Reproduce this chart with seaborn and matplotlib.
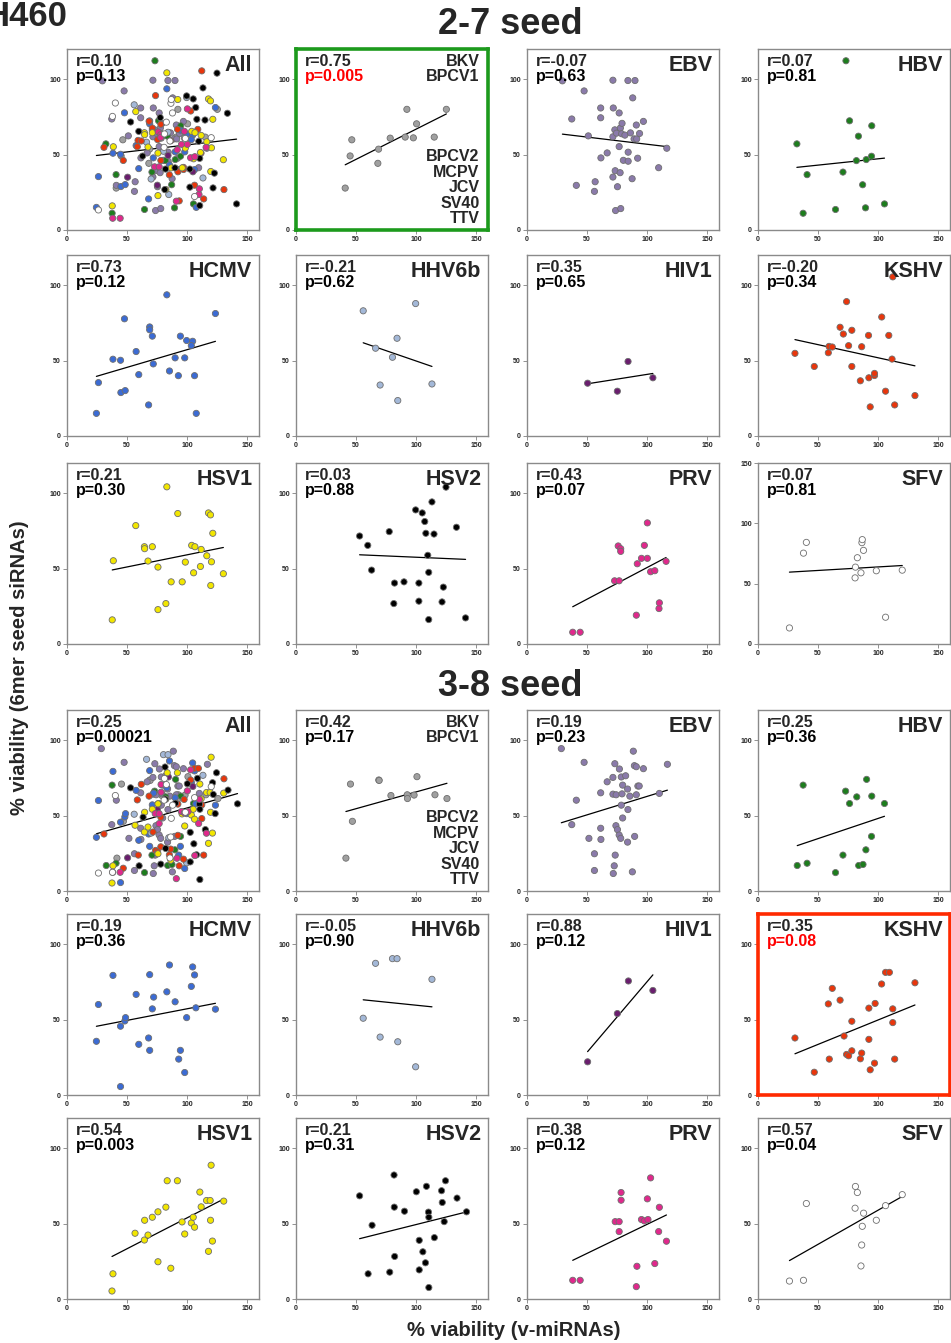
import matplotlib
matplotlib.use('Agg')
import matplotlib.pyplot as plt
import seaborn as sns
import pandas as pd

sns.set_style('white')
plt.rcParams['font.family'] = ['Liberation Sans', 'DejaVu Sans']
plt.rcParams['font.weight'] = 'bold'

# ---- 2-7 seed data (x = % viability v-miRNAs, y = % viability 6mer seed siRNAs)
bkv27_x = [41.0, 45.1, 46.5, 68.2, 68.8, 78.5, 91.0, 92.4, 97.8, 100.5, 115.2, 125.3]
bkv27_y = [27.8, 49.1, 59.8, 44.2, 53.6, 60.9, 61.6, 80.0, 61.1, 70.4, 61.6, 80.0]
ebv27_x = [29.5, 37.3, 41.1, 47.6, 51.1, 61.4, 61.4, 61.6, 56.8, 56.2, 66.8, 71.6, 71.9, 71.6, 73.2,
           74.6, 76.8, 76.8, 77.8, 79.2, 78.9, 81.6, 80.3, 84.3, 84.3, 86.2, 84.1, 90.0, 88.1, 89.2,
           91.4, 91.1, 93.8, 97.0, 92.2, 73.5, 71.6, 77.6, 75.4, 87.6, 73.8, 78.1, 109.7, 116.5]
ebv27_y = [98.9, 73.6, 29.6, 92.2, 62.4, 80.9, 74.4, 47.8, 32.0, 25.6, 51.1, 99.3, 80.9, 61.8, 66.4,
           64.2, 77.6, 55.3, 67.6, 70.7, 63.8, 62.9, 46.2, 51.6, 45.6, 64.4, 99.1, 99.1, 87.6, 60.4,
           60.4, 69.6, 64.0, 72.0, 47.6, 39.3, 35.1, 38.0, 28.7, 34.0, 12.9, 14.2, 41.3, 54.2]
hbv27_x = [73.3, 32.4, 40.9, 37.6, 64.6, 70.8, 76.3, 83.7, 82.0, 90.2, 94.6, 94.8, 87.2, 89.6, 105.4]
hbv27_y = [112.2, 57.1, 36.7, 11.1, 13.6, 38.4, 72.4, 62.2, 46.0, 46.7, 48.9, 69.1, 30.0, 14.7, 17.3]
hcmv27_x = [24.5, 26.2, 38.3, 44.6, 47.9, 44.9, 48.5, 57.6, 59.8, 68.9, 68.9, 71.1, 71.9, 68.0, 83.2,
            85.4, 90.1, 94.5, 92.8, 98.1, 99.7, 104.7, 103.6, 106.3, 107.7, 123.7]
hcmv27_y = [15.0, 35.4, 50.9, 50.2, 77.7, 28.8, 30.1, 56.0, 40.7, 72.3, 70.4, 66.2, 47.8, 20.6, 93.6,
            43.1, 51.8, 66.2, 40.0, 51.8, 63.3, 62.8, 59.9, 40.0, 15.0, 81.2]
hhv6b27_x = [56.0, 66.3, 70.1, 80.4, 84.2, 84.8, 99.7, 113.3]
hhv6b27_y = [83.0, 58.2, 33.8, 52.2, 64.8, 23.5, 87.8, 34.5]
hiv127_x = [50.5, 75.3, 84.2, 104.9]
hiv127_y = [35.0, 29.7, 49.4, 38.6]
kshv27_x = [30.8, 46.9, 58.6, 59.2, 61.9, 68.4, 71.1, 73.8, 75.5, 78.2, 78.2, 85.3, 86.4, 92.1, 92.4,
            93.5, 97.1, 97.1, 103.1, 106.3, 109.0, 111.7, 113.9, 130.8, 112.3]
kshv27_y = [54.8, 46.1, 55.2, 59.4, 59.0, 72.1, 67.6, 89.1, 59.9, 70.1, 46.1, 36.6, 59.2, 66.7, 38.6,
            19.3, 40.1, 41.5, 78.9, 29.7, 66.7, 51.0, 20.6, 26.8, 105.5]
hsv127_x = [37.7, 38.6, 57.3, 64.5, 64.7, 71.1, 67.5, 75.8, 75.8, 83.2, 82.4, 86.8, 92.3, 96.0, 98.6,
            103.9, 106.6, 105.5, 111.8, 111.2, 116.5, 117.9, 119.6, 120.4, 119.8, 121.5, 130.3]
hsv127_y = [16.0, 55.2, 78.5, 64.5, 63.2, 64.5, 55.0, 51.0, 22.8, 104.2, 26.8, 41.2, 86.5, 41.2, 54.3,
            65.4, 64.5, 47.2, 62.7, 51.4, 58.5, 86.9, 85.6, 54.5, 38.8, 73.4, 46.6]
hsv227_x = [53.0, 59.8, 63.0, 77.7, 82.1, 81.5, 90.0, 99.7, 105.2, 107.3, 108.2, 115.0, 109.8, 110.6,
            102.4, 102.4, 110.6, 113.3, 122.8, 121.7, 133.7, 141.3, 125.0]
hsv227_y = [71.6, 65.4, 49.0, 74.5, 40.4, 26.8, 41.2, 88.9, 86.9, 81.2, 73.4, 72.9, 58.8, 47.5,
            40.4, 28.4, 16.2, 94.2, 37.7, 27.9, 77.4, 17.3, 104.0]
prv27_x = [38.1, 44.3, 73.0, 76.8, 76.0, 78.1, 78.1, 91.1, 91.9, 95.4, 97.8, 100.3, 100.3, 103.0,
           106.5, 110.0, 110.3, 115.9]
prv27_y = [7.8, 7.8, 41.9, 41.9, 65.0, 63.2, 61.4, 19.1, 53.2, 56.8, 65.4, 56.8, 80.3, 47.9,
           48.6, 23.5, 27.3, 54.8]
sfv27_x = [26.2, 37.9, 40.3, 80.9, 81.2, 82.8, 85.8, 86.6, 86.9, 87.9, 98.6, 106.3, 120.2]
sfv27_y = [13.3, 75.3, 84.2, 54.8, 63.7, 71.5, 59.0, 84.0, 86.5, 77.6, 60.7, 22.2, 61.2]

# ---- 3-8 seed data
bkv38_x = [41.6, 45.4, 47.0, 69.0, 69.3, 79.1, 92.7, 92.9, 98.4, 100.8, 115.8, 125.8]
bkv38_y = [21.8, 70.9, 46.2, 73.6, 73.3, 63.3, 63.8, 61.3, 63.6, 75.8, 63.8, 61.3]
ebv38_x = [28.6, 37.3, 41.1, 47.6, 51.6, 56.2, 56.2, 61.4, 61.4, 61.6, 66.8, 71.6, 71.6, 73.2, 74.3,
           74.1, 75.4, 73.5, 72.7, 71.9, 77.0, 78.6, 78.6, 76.8, 78.1, 79.2, 79.7, 79.7, 82.2, 83.8,
           84.1, 83.8, 85.7, 88.6, 89.5, 91.1, 91.1, 92.4, 93.5, 89.7, 87.8, 97.0, 110.3, 117.0]
ebv38_y = [94.4, 44.0, 60.2, 85.3, 34.9, 24.7, 13.6, 65.1, 41.6, 34.2, 72.4, 75.3, 64.2, 84.4, 63.8,
           43.3, 40.7, 23.8, 16.7, 11.6, 80.9, 75.6, 56.9, 37.1, 34.9, 64.4, 70.2, 48.4, 76.4, 67.6,
           54.0, 32.4, 62.9, 92.7, 83.1, 82.4, 63.8, 69.6, 69.6, 36.2, 12.7, 81.1, 64.7, 84.0]
hbv38_x = [32.7, 37.6, 40.9, 64.6, 70.8, 73.0, 76.3, 82.3, 83.9, 87.5, 89.9, 90.5, 94.6, 94.8, 105.4]
hbv38_y = [16.9, 70.2, 18.4, 12.2, 23.8, 66.2, 58.0, 62.4, 16.9, 17.6, 27.3, 74.0, 36.2, 62.9, 58.0]
hcmv38_x = [24.5, 26.2, 38.3, 44.6, 44.6, 48.2, 48.8, 57.6, 59.8, 68.0, 68.9, 68.9, 71.1, 72.2, 83.2,
            85.4, 90.1, 94.5, 93.1, 98.1, 99.7, 103.6, 104.7, 106.3, 107.4, 123.7]
hcmv38_y = [35.6, 60.0, 79.3, 45.6, 5.6, 49.1, 51.3, 66.7, 33.6, 37.8, 79.8, 29.6, 57.1, 64.9, 68.4,
            86.2, 61.8, 29.6, 23.8, 14.9, 51.3, 72.0, 84.9, 79.6, 57.8, 56.9]
hhv6b38_x = [56.0, 66.3, 70.1, 80.4, 84.2, 84.8, 99.7, 113.3]
hhv6b38_y = [50.9, 87.3, 38.4, 90.4, 90.4, 35.3, 18.7, 76.7]
hiv138_x = [50.5, 75.3, 84.5, 104.9]
hiv138_y = [22.0, 54.0, 75.6, 69.3]
kshv38_x = [30.8, 46.9, 58.6, 59.4, 61.9, 68.4, 71.7, 73.8, 75.5, 78.2, 78.2, 85.3, 86.4, 92.4, 92.4,
            93.5, 97.1, 97.6, 103.0, 106.3, 109.5, 112.3, 112.3, 113.9, 130.8]
kshv38_y = [37.8, 15.1, 60.4, 23.8, 70.7, 62.9, 39.1, 26.9, 26.0, 48.9, 29.3, 24.0, 27.8, 57.6, 36.9,
            16.7, 21.1, 60.7, 73.6, 81.3, 81.3, 57.1, 48.0, 23.8, 74.4]
hsv138_x = [37.5, 38.3, 56.7, 64.5, 64.7, 67.5, 71.1, 75.8, 75.8, 82.4, 83.5, 86.5, 92.0, 95.9, 98.1,
            103.6, 105.2, 106.3, 110.7, 111.8, 116.3, 117.9, 119.3, 119.6, 120.1, 121.2, 130.6]
hsv138_y = [5.3, 16.7, 43.6, 39.1, 52.2, 42.4, 54.2, 57.8, 24.7, 60.9, 78.4, 20.4, 78.4, 51.1, 43.1,
            50.4, 54.2, 47.6, 70.9, 61.1, 65.3, 31.6, 65.3, 52.2, 88.7, 38.4, 64.9]
hsv238_x = [53.0, 60.1, 63.4, 78.1, 81.7, 81.9, 82.2, 90.4, 100.3, 102.7, 102.7, 105.7, 107.9, 108.7,
            110.4, 110.7, 110.7, 115.3, 121.3, 121.9, 123.5, 124.6, 134.2, 142.1]
hsv238_y = [68.4, 16.7, 48.9, 17.8, 82.2, 60.9, 28.2, 58.2, 71.1, 38.9, 19.3, 31.3, 24.0, 74.7,
            57.6, 54.2, 7.6, 40.7, 71.8, 64.0, 51.3, 78.4, 66.9, 57.8]
prv38_x = [38.1, 44.3, 73.5, 76.8, 76.8, 78.4, 78.4, 91.6, 91.1, 95.4, 97.8, 100.8, 100.3, 103.0,
           106.5, 109.7, 110.3, 116.2]
prv38_y = [12.4, 12.4, 51.3, 51.3, 44.7, 70.6, 65.5, 21.7, 8.2, 52.7, 51.8, 52.7, 66.4, 80.3,
           23.5, 44.7, 60.8, 38.3]
sfv38_x = [26.2, 37.9, 40.3, 80.9, 81.2, 82.8, 85.8, 86.4, 86.9, 88.0, 98.6, 106.3, 120.2]
sfv38_y = [11.9, 12.4, 63.3, 60.2, 74.6, 70.6, 21.9, 35.8, 48.2, 56.9, 52.2, 61.9, 69.2]

viruses = ['BKV', 'EBV', 'HBV', 'HCMV', 'HHV6b', 'HIV1', 'KSHV', 'HSV1', 'HSV2', 'PRV', 'SFV']
virus_colors = ['#a0a0a0', '#8a7aaa', '#1d7d1d', '#3b6bd4', '#a3b8d8', '#6a1e6e',
                '#e8360c', '#f2e600', '#000000', '#e0288c', '#ffffff']

panel_order = ['All'] + viruses
r27 = ['0.10', '0.75', '-0.07', '0.07', '0.73', '-0.21', '0.35', '-0.20', '0.21', '0.03', '0.43', '0.07']
p27 = ['0.13', '0.005', '0.63', '0.81', '0.12', '0.62', '0.65', '0.34', '0.30', '0.88', '0.07', '0.81']
r38 = ['0.25', '0.42', '0.19', '0.25', '0.19', '-0.05', '0.88', '0.35', '0.54', '0.21', '0.38', '0.57']
p38 = ['0.00021', '0.17', '0.23', '0.36', '0.36', '0.90', '0.12', '0.08', '0.003', '0.31', '0.12', '0.04']

seed27 = [(bkv27_x, bkv27_y), (ebv27_x, ebv27_y), (hbv27_x, hbv27_y), (hcmv27_x, hcmv27_y),
          (hhv6b27_x, hhv6b27_y), (hiv127_x, hiv127_y), (kshv27_x, kshv27_y), (hsv127_x, hsv127_y),
          (hsv227_x, hsv227_y), (prv27_x, prv27_y), (sfv27_x, sfv27_y)]
seed38 = [(bkv38_x, bkv38_y), (ebv38_x, ebv38_y), (hbv38_x, hbv38_y), (hcmv38_x, hcmv38_y),
          (hhv6b38_x, hhv6b38_y), (hiv138_x, hiv138_y), (kshv38_x, kshv38_y), (hsv138_x, hsv138_y),
          (hsv238_x, hsv238_y), (prv38_x, prv38_y), (sfv38_x, sfv38_y)]


def make_df(pairs):
    frames = [pd.DataFrame({'x': x, 'y': y, 'virus': v}) for v, (x, y) in zip(viruses, pairs)]
    return pd.concat(frames, ignore_index=True)


palette = dict(zip(viruses, virus_colors))
W, H = 951, 1343
col_left = [67, 296, 527, 758]
row_top = [[49, 255, 463], [710, 914, 1118]]
aw, ah = 192, 181

fig = plt.figure(figsize=(W / 100, H / 100), dpi=100)

# (seed, panel) -> frame colour / red p-value
highlight = {(0, 'BKV'): '#1c9a1c', (1, 'KSHV'): '#ff2a00'}

for s, (pairs, rr, pp) in enumerate([(seed27, r27, p27), (seed38, r38, p38)]):
    df = make_df(pairs)
    for i, name in enumerate(panel_order):
        row, col = divmod(i, 4)
        top = row_top[s][row]
        ax = fig.add_axes([col_left[col] / W, 1 - (top + ah) / H, aw / W, ah / H])
        sub = df if name == 'All' else df[df['virus'] == name]
        sns.scatterplot(data=sub, x='x', y='y', hue='virus', palette=palette, s=20,
                        edgecolor='#6e6e6e', linewidth=0.6, legend=False, ax=ax, zorder=3)
        sns.regplot(data=sub, x='x', y='y', scatter=False, ci=None, color='black',
                    line_kws={'lw': 0.9}, ax=ax)
        ax.set_xlabel('')
        ax.set_ylabel('')
        ax.set_xlim(0, 160)
        ax.set_xticks([0, 50, 100, 150])
        if s == 0 and name == 'SFV':
            ax.set_ylim(0, 150)
            ax.set_yticks([0, 50, 100, 150])
        else:
            ax.set_ylim(0, 120)
            ax.set_yticks([0, 50, 100])
        ax.tick_params(labelsize=5, length=3, width=0.6, color='#808080', bottom=True, left=True,
                       pad=1.5)
        frame = highlight.get((s, name))
        for sp in ax.spines.values():
            sp.set_color(frame if frame else '#8a8a8a')
            sp.set_linewidth(2.6 if frame else 1.0)
        ax.text(0.045, 0.975, 'r=' + rr[i], transform=ax.transAxes, fontsize=11.5,
                va='top', ha='left')
        ax.text(0.045, 0.89, 'p=' + pp[i], transform=ax.transAxes, fontsize=11.5,
                va='top', ha='left', color='red' if frame else 'black')
        if name == 'BKV':
            ax.text(0.955, 0.975, 'BKV\nBPCV1', transform=ax.transAxes, fontsize=11.5,
                    va='top', ha='right', linespacing=1.0)
            ax.text(0.955, 0.02, 'BPCV2\nMCPV\nJCV\nSV40\nTTV', transform=ax.transAxes,
                    fontsize=11.5, va='bottom', ha='right', linespacing=1.05)
        else:
            ax.text(0.965, 0.965, name, transform=ax.transAxes, fontsize=15.5,
                    va='top', ha='right')

fig.text(510 / W, 1 - 25 / H, '2-7 seed', fontsize=26, ha='center', va='center')
fig.text(510 / W, 1 - 686 / H, '3-8 seed', fontsize=26, ha='center', va='center')
fig.text(-15 / W, 1 - 16 / H, 'H460', fontsize=25, ha='left', va='center')
fig.text(20 / W, 1 - 668 / H, '% viability (6mer seed siRNAs)', fontsize=14.5,
         rotation=90, ha='center', va='center')
fig.text(514 / W, 1 - 1331 / H, '% viability (v-miRNAs)', fontsize=14.5,
         ha='center', va='center')

fig.savefig('out.png', dpi=100)
